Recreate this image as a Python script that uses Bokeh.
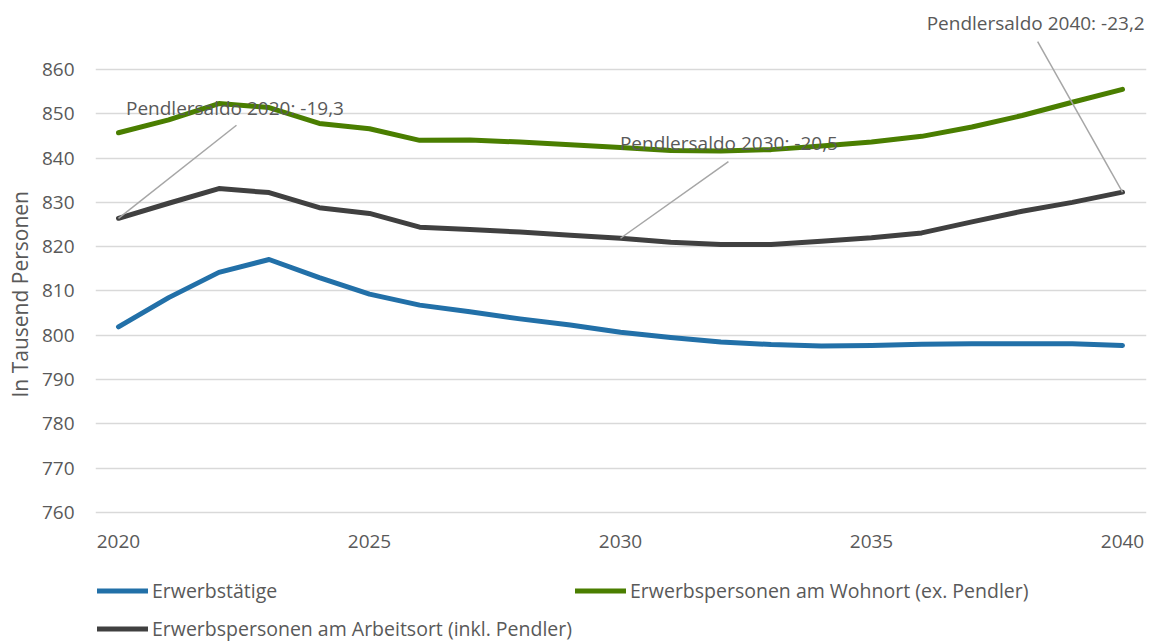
import math
from bokeh.plotting import figure
from bokeh.layouts import column
from bokeh.models import Range1d, FixedTicker, Legend, LegendItem, Label, Title
from bokeh.embed import file_html
from bokeh.resources import INLINE

# ---------------- data ----------------
years = list(range(2020, 2041))
erwerbstaetige = [801.9, 808.5, 814.2, 817.1, 813.0, 809.3, 806.8, 805.3, 803.7, 802.3, 800.7,
                  799.5, 798.5, 797.9, 797.6, 797.7, 798.0, 798.1, 798.1, 798.1, 797.7]
wohnort = [845.7, 848.6, 852.3, 851.4, 847.8, 846.6, 844.0, 844.1, 843.6, 843.0, 842.4,
           841.7, 841.6, 841.9, 842.7, 843.6, 844.9, 847.0, 849.6, 852.6, 855.5]
arbeitsort = [826.4, 829.8, 833.1, 832.2, 828.8, 827.5, 824.4, 823.9, 823.3, 822.6, 821.9,
              821.0, 820.5, 820.5, 821.2, 822.0, 823.1, 825.6, 828.0, 830.0, 832.3]
series_names = ["Erwerbstätige",
                "Erwerbspersonen am Wohnort (ex. Pendler)",
                "Erwerbspersonen am Arbeitsort (inkl. Pendler)"]
saldo_years = [2020, 2030, 2040]
x_ticks = [2020, 2025, 2030, 2035, 2040]
y_ticks = [760, 770, 780, 790, 800, 810, 820, 830, 840, 850, 860]
y_title = "In Tausend Personen"

# ---------------- styling / layout ----------------
FONT = "Open Sans"
TXT = "#595959"
COLORS = ["#2270A8", "#4A7E00", "#404040"]
LEADER = "#A6A6A6"
# label anchor positions (data coords) for the Pendlersaldo annotations
label_pos = [(2022.32, 851.4), (2032.16, 843.3), (2038.27, 870.4)]
leader_end = [(2022.35, 847.4), (2032.15, 839.2), (2038.31, 866.3)]

p = figure(width=1150, height=560, output_backend="svg", toolbar_location=None,
           x_range=Range1d(2019.542, 2040.478), y_range=Range1d(759.55, 873.3),
           min_border_left=95, min_border_right=4, min_border_top=10, min_border_bottom=46)
p.outline_line_color = None
p.background_fill_color = "white"
p.border_fill_color = "white"

p.xaxis.ticker = FixedTicker(ticks=x_ticks)
p.yaxis.ticker = FixedTicker(ticks=y_ticks)
p.xgrid.visible = False
p.ygrid.grid_line_color = "#D9D9D9"
p.ygrid.grid_line_width = 1.5
for ax in (p.xaxis, p.yaxis):
    ax.axis_line_color = None
    ax.major_tick_line_color = None
    ax.minor_tick_line_color = None
    ax.major_label_text_font = FONT
    ax.major_label_text_font_size = "19px"
    ax.major_label_text_color = TXT
p.xaxis.major_label_standoff = 14
p.yaxis.major_label_standoff = 15

renderers = []
for vals, col in zip([erwerbstaetige, wohnort, arbeitsort], COLORS):
    r = p.line(years, vals, line_width=5, line_color=col, line_cap="round", line_join="round")
    renderers.append(r)

# leader lines from Arbeitsort data points to labels
y0 = [arbeitsort[years.index(y)] for y in saldo_years]
p.segment(x0=saldo_years, y0=y0, x1=[e[0] for e in leader_end], y1=[e[1] for e in leader_end],
          line_color=LEADER, line_width=1.5)

for yr, (lx, ly) in zip(saldo_years, label_pos):
    i = years.index(yr)
    saldo = round(arbeitsort[i] - wohnort[i], 1)
    txt = f"Pendlersaldo {yr}: {saldo:.1f}".replace(".", ",")
    p.add_layout(Label(x=lx, y=ly, text=txt, text_align="center", text_baseline="middle",
                       text_font=FONT, text_font_size="19px", text_color=TXT))

p.add_layout(Title(text=y_title, align="left", offset=117, vertical_align="middle",
                   standoff=8, text_font=FONT, text_font_size="21px",
                   text_font_style="normal", text_color=TXT), "left")

# ---------------- legend strip (second figure, frame aligned with the chart) ----------------
lg = figure(width=1150, height=82, output_backend="svg", toolbar_location=None,
            x_range=Range1d(0, 1), y_range=Range1d(0, 1),
            x_axis_type=None, y_axis_type=None,
            min_border_left=0, min_border_right=0, min_border_top=0, min_border_bottom=0)
lg.grid.visible = False
lg.outline_line_color = None
lg_renderers = []
for vals, col in zip([erwerbstaetige, wohnort, arbeitsort], COLORS):
    r = lg.line(years, vals, line_width=5, line_color=col, line_cap="round", line_join="round")
    lg_renderers.append(r)

legend = Legend(items=[LegendItem(label=n, renderers=[r]) for n, r in zip(series_names, lg_renderers)],
                location=(2, -4), orientation="horizontal", ncols=2,
                padding=0, margin=0, spacing=3, glyph_width=51, glyph_height=35,
                label_height=35, label_standoff=4, label_text_font=FONT,
                label_text_font_size="19.5px", label_text_color=TXT,
                border_line_color=None, background_fill_alpha=0)
lg.add_layout(legend)

layout = column(p, lg, spacing=0)
open("out.html", "w").write(file_html(layout, INLINE))
